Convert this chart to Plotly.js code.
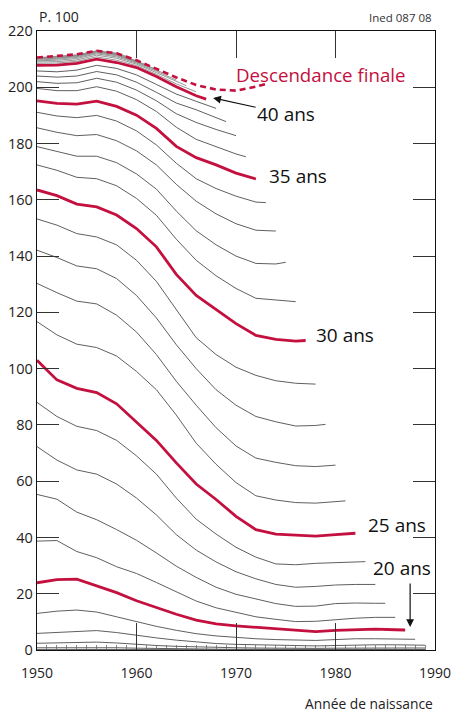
<!DOCTYPE html>
<html><head><meta charset="utf-8">
<script src="https://cdn.plot.ly/plotly-3.0.1.min.js"></script>
<style>html,body{margin:0;padding:0;background:#fff}#chart{width:455px;height:714px}</style>
</head><body><div id="chart"></div>
<script>
// Cohort years grid (even years) ; each line ends at its last observed cohort
const grid = [1950,1952,1954,1956,1958,1960,1962,1964,1966,1968,1970,1972,1974,1976,1978,1980,1982,1984,1986,1988];
const endYearRef = 2007;   // last observation year: cohort end = 2007 - age
const maxCohort = 1989;
const ages = [15,16,17,18,19,20,21,22,23,24,25,26,27,28,29,30,31,32,33,34,35,36,37,38,39,40,41,42,43,44,45,46,47,48,49];
const redAges = [20,25,30,35,40];

// Cumulative births per 100 women at each age
const age15 = [0.2,0.2,0.25,0.3,0.25,0.2,0.15,0.12,0.1,0.08,0.07,0.06,0.05,0.05,0.05,0.05,0.05,0.05,0.05,0.05,0.05];
const age16 = [0.8,0.85,0.9,0.95,0.8,0.65,0.5,0.4,0.35,0.3,0.25,0.22,0.2,0.18,0.18,0.2,0.22,0.22,0.22,0.2,0.2];
const age17 = [2.4,2.5,2.6,2.8,2.5,2.0,1.6,1.3,1.05,0.9,0.8,0.7,0.62,0.58,0.58,0.65,0.72,0.75,0.75,0.72,0.7];
const age18 = [5.9,6.2,6.6,6.9,6.2,5.2,4.3,3.5,2.8,2.3,2.0,1.8,1.6,1.5,1.45,1.6,1.8,1.85,1.85,1.75,1.7];
const age19 = [13,13.8,14.2,13.5,11.8,10,8.4,7,5.8,5,4.4,4.0,3.7,3.5,3.4,3.7,4.0,4.0,3.9,3.8];
const age20 = [23.9,25,25.2,22.8,20.4,17.5,15.1,12.7,10.6,9.3,8.6,8.1,7.4,6.9,6.5,7.0,7.3,7.4,7.2,7.1];
const age21 = [38.7,38.9,35,32.8,29.6,27.2,24,20.7,17.4,15.0,13.3,11.8,10.9,10.1,10.2,10.8,11.3,11.6,11.6];
const age22 = [55.3,53.6,49,46.3,42.8,39,34.5,29.8,25.8,22.3,19.8,18.2,16.5,15.5,15.6,16.5,16.7,16.6,16.6];
const age23 = [72.3,67.5,64,62.5,59,54,48,41,35.5,31.3,27.8,25.3,23.3,22.3,22.6,23.1,23.3,23.3];
const age24 = [88,83,79.5,78,74.5,69,62.5,54,46.5,41.2,36.5,33,30.6,30.3,30.8,31,31.3,31.4];
const age25 = [103,96,93,91.5,87.5,81,74.5,66.5,59,53.5,47.5,42.8,41.2,40.8,40.5,41,41.5];
const age26 = [116.7,112,108.7,107.5,104.5,99,92.5,83.5,73.5,66,59.5,54.8,53.3,52.4,52.2,52.8,53];
const age27 = [130.3,127,124,123,119,113,105,95.5,87,79,72.5,68.2,66.7,65.5,65.2,65.7];
const age28 = [142.1,139.5,136.5,135.5,132,126,118,108.5,100,92.5,87,83,81.1,79.6,79.8,80.2];
const age29 = [153.2,151,148,146.8,144,138.5,131,121,111,105,100.5,97.6,95.7,94.8,94.5];
const age30 = [163.5,161.5,158.5,157.5,154.6,149.8,143.3,133.5,126,121,116,111.8,110.4,109.8,110];
const age31 = [172.4,170.5,168,167.5,165,160.5,154.5,146,138.5,133,128.5,125,124.4,123.8];
const age32 = [178.9,177.3,175.5,175.5,173.2,169.2,163.8,156,149,144,140,137.4,137.2,137.8];
const age33 = [185.6,184,182.8,183.2,181,177.4,172.4,165.5,159.5,155,151.5,149.2,148.9];
const age34 = [191.1,189.8,189.2,190,188,184.5,179.5,173,167.5,164,161.3,159.2,159];
const age35 = [195.2,194.3,194,195.1,193.2,190.1,185.4,179,175,172.4,169.5,167.4];
const age36 = [199.6,198.8,198.8,200.2,198.6,195.6,191.4,185.8,181.5,178.8,176.3,175.3];
const age37 = [202,201.4,201.6,203.2,201.8,199,195.2,190.6,187.5,185,182.8];
const age38 = [204,203.6,204,205.6,204.4,201.8,198.2,194.4,192,189.2,187.8];
const age39 = [205.8,205.5,206.1,207.8,206.7,204.4,201,197.6,195,192.5];
const age40 = [207.8,207.9,208.5,210,208.8,207,203.8,200.2,197,195.8];
const age41 = [208.5,208.6,209.2,210.8,209.6,207.7,204.6,201.2,198.4];
const age42 = [209,209.1,209.7,211.4,210.3,208.2,205.2,202,200.6];
const age43 = [209.4,209.6,210.2,211.9,210.8,208.6,205.7,202.6];
const age44 = [209.7,210,210.6,212.2,211.2,208.9,206.1,204.6];
const age45 = [210,210.3,210.9,212.5,211.5,209.1,206.4];
const age46 = [210.2,210.5,211.1,212.7,211.7,209.3,208];
const age47 = [210.3,210.7,211.3,212.8,211.9,209.4];
const age48 = [210.4,210.8,211.4,212.9,212,211];
const age49 = [210.5,210.9,211.5,212.95,212.1];
const finale = [210.6,211.1,211.7,213.0,212.1,209.6,206.5,203.5,200.8,199.2,198.8,200.2,201.2];
const finaleEnd = 1973;

const xTickVals = [1950,1960,1970,1980,1990];
const yTickVals = [0,20,40,60,80,100,120,140,160,180,200,220];

const series = {15:age15,16:age16,17:age17,18:age18,19:age19,20:age20,21:age21,22:age22,23:age23,24:age24,25:age25,26:age26,27:age27,28:age28,29:age29,30:age30,31:age31,32:age32,33:age33,34:age34,35:age35,36:age36,37:age37,38:age38,39:age39,40:age40,41:age41,42:age42,43:age43,44:age44,45:age45,46:age46,47:age47,48:age48,49:age49};

const RED = '#c3103f';
function xsFor(end){ return grid.filter(y => y < end).concat([end]); }

const thin = [], red = [];
ages.forEach(a => {
  const end = Math.min(endYearRef - a, maxCohort);
  const isRed = redAges.includes(a);
  const tr = {
    type:'scatter', mode:'lines', x:xsFor(end), y:series[a], hoverinfo:'skip', showlegend:false,
    line: isRed ? {color:RED, width:2.8} : {color: a > 40 ? '#8a8a8a' : '#4d4d4d', width: 0.9}
  };
  (isRed ? red : thin).push(tr);
});
const dashTrace = {type:'scatter', mode:'lines', x:xsFor(finaleEnd), y:finale, xaxis:'x2', yaxis:'y2',
  hoverinfo:'skip', showlegend:false, line:{color:RED, width:2.6, dash:'6px,4px'}};

const F = 'Open Sans, Noto Sans, sans-serif';
const axBase = {range:[1950,1990], showgrid:false, zeroline:false, showline:true, linecolor:'#111', linewidth:1.3,
  ticks:'inside', ticklen:27, tickwidth:1, tickcolor:'#333', fixedrange:true};
const layout = {
  width:455, height:714, margin:{l:37, r:20, t:31, b:64}, paper_bgcolor:'#fff', plot_bgcolor:'#fff',
  font:{family:F, color:'#222'},
  xaxis: Object.assign({}, axBase, {tickvals:xTickVals, ticktext:xTickVals.map(String), tickfont:{size:14, family:F, color:'#222'},
    ticklabelstandoff:10, minor:{dtick:1, tick0:1950, ticks:'inside', ticklen:5, tickcolor:'#666', tickwidth:0.8}}),
  xaxis2: Object.assign({}, axBase, {overlaying:'x', side:'top', anchor:'y2', tickvals:[1960,1970,1980], showticklabels:false}),
  yaxis: {range:[0,220], showgrid:false, zeroline:false, showline:true, linecolor:'#111', linewidth:1.3,
    ticks:'inside', ticklen:22, tickwidth:1, tickcolor:'#333', tickvals:yTickVals, ticktext:yTickVals.map(String),
    tickfont:{size:14.5, family:F, color:'#222'}, fixedrange:true},
  yaxis2: {range:[0,220], overlaying:'y', side:'right', anchor:'x', showgrid:false, zeroline:false, showline:true,
    linecolor:'#111', linewidth:1.3, ticks:'inside', ticklen:22, tickwidth:1, tickcolor:'#333',
    tickvals:yTickVals, showticklabels:false, fixedrange:true},
  annotations: [
    {xref:'paper', yref:'paper', x:0, y:1.0242, xanchor:'left', yanchor:'middle', text:'P. 100', showarrow:false, font:{size:14, family:F, color:'#222'}},
    {xref:'paper', yref:'paper', x:0.9975, y:1.0226, xanchor:'right', yanchor:'middle', text:'Ined 087 08', showarrow:false, font:{size:11.5, family:F, color:'#333'}},
    {xref:'paper', yref:'paper', x:1.0, y:-0.0872, xanchor:'right', yanchor:'middle', text:'Année de naissance', showarrow:false, font:{size:13.8, family:F, color:'#222'}},
    {x:1978.5, y:204.7, text:'Descendance finale', showarrow:false, font:{size:18.7, family:F, color:RED}},
    {x:1967.7, y:196.2, ax:73, ay:16, text:'40 ans', showarrow:true, arrowhead:2, arrowsize:1.3, arrowwidth:1.2, arrowcolor:'#111', font:{size:19, family:F, color:'#111'}},
    {x:1976.2, y:168.3, text:'35 ans', showarrow:false, font:{size:19, family:F, color:'#111'}},
    {x:1981.0, y:111.8, text:'30 ans', showarrow:false, font:{size:19, family:F, color:'#111'}},
    {x:1986.2, y:44.3, text:'25 ans', showarrow:false, font:{size:19, family:F, color:'#111'}},
    {x:1986.7, y:29.3, text:'20 ans', showarrow:false, font:{size:19, family:F, color:'#111'}},
    {x:1987.5, y:8.2, ax:0, ay:-45, text:'', showarrow:true, arrowhead:2, arrowsize:1.3, arrowwidth:1.2, arrowcolor:'#111'}
  ]
};
Plotly.newPlot('chart', thin.concat(red, [dashTrace]), layout, {staticPlot:true, displayModeBar:false});
</script></body></html>
